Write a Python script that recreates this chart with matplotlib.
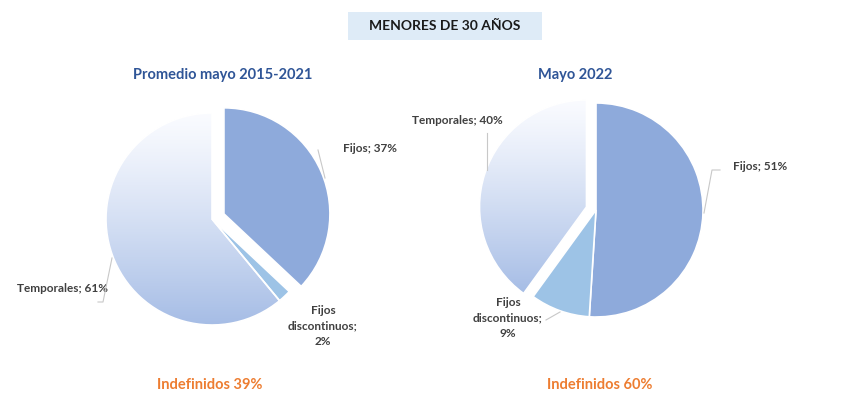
import numpy as np
import matplotlib
matplotlib.use("Agg")
import matplotlib.pyplot as plt
from matplotlib.patches import Rectangle

# data
categories = ["Fijos", "Fijos discontinuos", "Temporales"]
avg_2015_2021 = [37, 2, 61]
may_2022 = [51, 9, 40]
indefinidos = [39, 60]
titles = ["Promedio mayo 2015-2021", "Mayo 2022"]
main_title = "MENORES DE 30 AÑOS"

W, H = 850, 415
plt.rcParams['font.family'] = ['Lato', 'DejaVu Sans']

fig = plt.figure(figsize=(W / 100, H / 100), dpi=100)
ax = fig.add_axes([0, 0, 1, 1])
ax.set_xlim(0, W)
ax.set_ylim(0, H)
ax.axis('off')

col_fijos = '#8eaadb'
col_disc = '#9dc3e6'
lbl_col = '#404040'


def py(y):
    # pixel row from top -> data y
    return H - y


def gradient_fill(wedge):
    bb = wedge.get_path().get_extents()
    top = np.array([0.98, 0.985, 1.0])
    bot = np.array([0.65, 0.74, 0.90])
    t = np.linspace(0, 1, 256)[:, None] ** 1.2
    img = (top * (1 - t) + bot * t)[:, None, :]
    im = ax.imshow(img, extent=(bb.x0, bb.x1, bb.y0, bb.y1), origin='upper',
                   aspect='auto', zorder=1)
    im.set_clip_path(wedge)
    wedge.set_facecolor('none')


def draw_pie(values, cx, cy, r, explode):
    # explode is given in pixels here (radius is not 1)
    wedges, _ = ax.pie(values, colors=[col_fijos, col_disc, 'white'],
                       startangle=90, counterclock=False, explode=explode,
                       center=(cx, py(cy)), radius=r, frame=True,
                       wedgeprops=dict(edgecolor='white', linewidth=1.2))
    for w in wedges:
        w.set_zorder(2)
    gradient_fill(wedges[2])
    return wedges


draw_pie(avg_2015_2021, 212, 219, 106, [13, 0, 0])
draw_pie(may_2022, 596, 210, 107, [0, 0, 10])

ax.set_xlim(0, W)
ax.set_ylim(0, H)
ax.set_aspect('auto')
ax.axis('off')

# title box
ax.add_patch(Rectangle((348, py(40)), 194, 28, facecolor='#deebf7',
                       edgecolor='none', zorder=0))
ax.text(445, py(26), main_title, ha='center', va='center', fontsize=10,
        fontweight='bold', color='#1a1a1a')

# subtitles and totals
for x, t, ind in zip([223, 575], titles, indefinidos):
    ax.text(x, py(75), t, ha='center', va='center', fontsize=10.5,
            fontweight='bold', color='#2f5597')
    ax.text(x - 13 if x < 400 else x + 25, py(385), f"Indefinidos {ind}%",
            ha='center', va='center', fontsize=10.5, fontweight='bold',
            color='#ed7d31')

# data labels
lab = dict(ha='center', va='center', fontsize=8.5, fontweight='bold',
           color=lbl_col, linespacing=1.45)
ax.text(370, py(148), f"{categories[0]}; {avg_2015_2021[0]}%", **lab)
ax.text(63, py(288), f"{categories[2]}; {avg_2015_2021[2]}%", **lab)
ax.text(323, py(326), f"Fijos\ndiscontinuos;\n{avg_2015_2021[1]}%", **lab)
ax.text(457, py(120), f"{categories[2]}; {may_2022[2]}%", **lab)
ax.text(760, py(166), f"{categories[0]}; {may_2022[0]}%", **lab)
ax.text(508, py(318), f"Fijos\ndiscontinuos;\n{may_2022[1]}%", **lab)

# leader lines
lc = dict(color='#c8c8c8', lw=0.8, zorder=3)
ax.plot([318, 325], [py(150), py(178)], **lc)
ax.plot([112, 103, 98], [py(258), py(302), py(302)], **lc)
ax.plot([487, 487], [py(133), py(170)], **lc)
ax.plot([720, 712, 704], [py(170), py(170), py(213)], **lc)
ax.plot([546, 560], [py(320), py(312)], **lc)

fig.savefig('out.png', dpi=100, facecolor='white')
